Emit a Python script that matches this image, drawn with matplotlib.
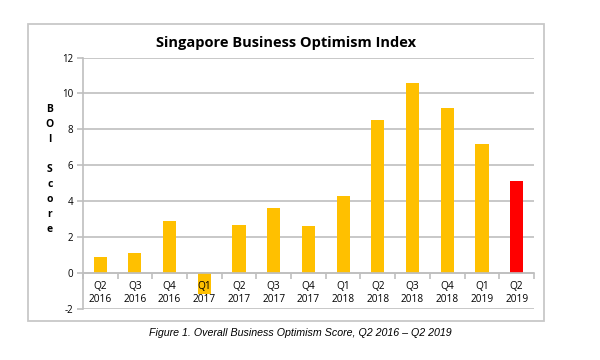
import matplotlib.pyplot as plt
from matplotlib.patches import Rectangle

quarters = ["Q2\n2016", "Q3\n2016", "Q4\n2016", "Q1\n2017", "Q2\n2017", "Q3\n2017", "Q4\n2017",
            "Q1\n2018", "Q2\n2018", "Q3\n2018", "Q4\n2018", "Q1\n2019", "Q2\n2019"]
scores = [0.9, 1.1, 2.9, -1.2, 2.65, 3.6, 2.6, 4.3, 8.5, 10.6, 9.2, 7.2, 5.1]
colors = ["#FFC000"] * (len(scores) - 1) + ["#FF0000"]

plt.rcParams['font.family'] = ['Open Sans', 'DejaVu Sans']
plt.rcParams['axes.unicode_minus'] = False
grid_col = "#BFBFBF"

fig = plt.figure(figsize=(6, 3.6), dpi=100)
ax = fig.add_axes([0.138, 0.143, 0.752, 0.697])

x = list(range(len(scores)))
ax.bar(x, scores, width=0.38, color=colors, zorder=2)
# labels on top of the bars, grid behind them
ax.xaxis.set_zorder(4)
ax.yaxis.set_zorder(1)

ax.set_xlim(-0.5, len(scores) - 0.5)
ax.set_ylim(-2, 12)
ax.set_yticks(range(-2, 13, 2))
ax.yaxis.grid(True, color=grid_col, linewidth=1.2)
ax.tick_params(axis='y', labelsize=7, length=4, color=grid_col, width=1.2, pad=3)

ax.spines['top'].set_visible(False)
ax.spines['right'].set_visible(False)
ax.spines['left'].set_color(grid_col)
ax.spines['left'].set_linewidth(1.2)
ax.spines['bottom'].set_position(('data', 0))
ax.spines['bottom'].set_color(grid_col)
ax.spines['bottom'].set_linewidth(1.2)
ax.spines['bottom'].set_zorder(3)

ax.set_xticks(x)
ax.set_xticklabels(quarters, fontsize=7.3, linespacing=1.3)
ax.set_xticks([i + 0.5 for i in range(-1, len(scores))], minor=True)
ax.tick_params(axis='x', which='major', length=0, pad=6)
ax.tick_params(axis='x', which='minor', length=4, color=grid_col, width=1.2)

fig.text(0.477, 0.88, "Singapore Business Optimism Index", ha='center', va='center',
         fontsize=10.5, fontweight='bold')
fig.text(0.083, 0.53, "\n".join("BOI Score"), ha='center', va='center',
         fontsize=7.5, fontweight='bold', linespacing=1.5)
fig.text(0.5, 0.075, "Figure 1. Overall Business Optimism Score, Q2 2016 \u2013 Q2 2019",
         ha='center', va='center', fontsize=7.7, style='italic', family='Liberation Sans')

fig.patches.append(Rectangle((28 / 600, 1 - 321 / 360), (544 - 28) / 600, (321 - 24) / 360,
                             transform=fig.transFigure, fill=False, edgecolor="#C8C8C8",
                             linewidth=1.3))

plt.savefig("out.png")
